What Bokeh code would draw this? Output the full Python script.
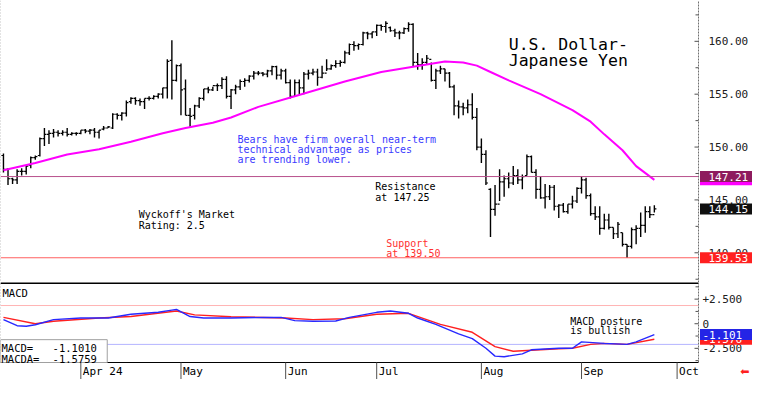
from bokeh.plotting import figure
from bokeh.layouts import column
from bokeh.models import Range1d, Span, Label, ColumnDataSource
from bokeh.embed import file_html
from bokeh.resources import INLINE
from bokeh.core.properties import value

# ---------------- data ----------------
highs = [149.4, 148.0, 147.1, 147.9, 148.0, 148.2, 149.1, 149.2, 150.9, 151.8,
         151.6, 151.7, 151.6, 151.6, 151.8, 151.4, 151.4, 151.6, 151.7, 151.7,
         151.8, 151.6, 152.0, 152.0, 153.2, 153.2, 153.3, 154.4, 154.7, 154.7,
         154.6, 154.6, 154.8, 154.9, 155.1, 155.6, 158.3, 160.1, 157.8, 157.9,
         156.4, 153.7, 154.0, 154.7, 155.5, 155.7, 155.7, 156.0, 156.6, 156.7,
         155.5, 155.9, 156.4, 156.5, 156.8, 157.2, 157.2, 157.1, 157.3, 157.7,
         157.7, 157.4, 157.4, 156.4, 156.4, 156.4, 157.1, 157.3, 157.4, 157.4,
         157.7, 158.3, 157.8, 158.2, 158.2, 159.1, 159.8, 160.0, 159.8, 160.9,
         160.9, 160.9, 161.6, 161.6, 161.9, 161.4, 161.2, 161.0, 161.3, 161.8,
         161.7, 158.9, 158.4, 158.7, 158.0, 157.4, 157.7, 157.4, 157.1, 155.9,
         154.4, 154.2, 154.5, 155.1, 153.7, 150.8, 149.7, 146.1, 146.4, 147.9,
         147.3, 147.6, 148.2, 147.9, 147.4, 149.3, 149.2, 147.9, 147.2, 146.5,
         146.4, 146.4, 144.6, 144.7, 144.6, 145.4, 146.2, 147.2, 147.1, 145.6,
         144.4, 144.4, 143.7, 143.7, 142.4, 142.9, 141.9, 140.8, 142.4, 142.6,
         143.8, 144.4, 144.4, 144.5]
lows = [147.6, 146.4, 146.5, 146.5, 147.3, 147.4, 148.0, 148.8, 149.1, 150.1,
        150.3, 150.9, 151.0, 151.1, 151.0, 151.1, 151.1, 151.2, 151.3, 151.2,
        150.9, 150.8, 151.6, 151.8, 151.7, 152.6, 152.5, 152.9, 154.1, 154.0,
        153.9, 153.6, 154.4, 154.5, 154.6, 154.6, 154.6, 154.5, 156.2, 153.0,
        153.0, 151.8, 152.6, 153.7, 154.4, 155.1, 155.3, 155.3, 155.5, 154.6,
        153.6, 155.0, 155.4, 155.7, 156.1, 156.4, 156.8, 156.7, 156.6, 156.8,
        156.4, 156.4, 156.0, 154.6, 154.8, 155.0, 155.0, 156.4, 156.8, 155.8,
        156.5, 157.2, 157.3, 157.5, 157.6, 157.9, 158.7, 159.1, 159.2, 159.6,
        160.2, 160.3, 160.5, 161.0, 160.8, 160.9, 160.4, 160.2, 160.7, 160.9,
        157.6, 157.3, 157.3, 157.8, 156.2, 155.5, 156.9, 156.2, 155.6, 153.0,
        152.7, 153.0, 153.2, 152.6, 149.7, 148.5, 146.4, 141.5, 143.5, 144.9,
        145.3, 146.1, 146.4, 146.5, 146.0, 147.3, 147.6, 145.1, 145.1, 144.2,
        145.0, 144.0, 143.3, 143.8, 143.7, 144.2, 144.7, 145.6, 145.1, 143.5,
        143.1, 141.7, 142.2, 142.2, 141.3, 141.4, 140.6, 139.5, 140.4, 140.8,
        141.5, 141.9, 143.3, 143.8]
opens = [149.2, 147.9, 147.0, 146.9, 147.7, 147.7, 148.3, 149.0, 149.2, 150.8,
         151.2, 151.3, 151.4, 151.3, 151.4, 151.2, 151.3, 151.3, 151.6, 151.5,
         151.6, 151.4, 151.7, 151.8, 151.8, 153.1, 153.0, 153.2, 154.3, 154.6,
         154.4, 154.3, 154.6, 154.6, 154.8, 155.0, 155.6, 158.2, 156.3, 157.7,
         155.5, 153.0, 153.0, 153.9, 154.6, 155.5, 155.4, 155.8, 155.8, 156.4,
         154.8, 155.4, 155.7, 156.2, 156.3, 156.7, 157.0, 157.0, 156.9, 157.2,
         157.6, 156.8, 157.2, 156.1, 154.8, 156.1, 155.6, 156.9, 157.0, 157.1,
         156.6, 157.0, 157.4, 157.7, 157.9, 158.0, 158.9, 159.7, 159.6, 159.7,
         160.8, 160.7, 160.9, 161.5, 161.4, 161.3, 161.0, 160.8, 160.8, 161.2,
         161.6, 158.0, 157.8, 158.0, 158.3, 156.3, 157.2, 157.4, 157.0, 155.7,
         153.9, 153.8, 153.7, 154.0, 152.8, 150.0, 149.3, 146.0, 144.1, 144.6,
         146.7, 147.0, 146.6, 147.3, 146.9, 147.3, 149.1, 147.6, 146.0, 145.2,
         145.3, 146.2, 144.4, 144.5, 143.9, 144.6, 144.9, 146.1, 146.9, 145.4,
         143.7, 143.4, 142.3, 143.1, 142.4, 141.8, 141.9, 140.8, 140.6, 142.2,
         142.3, 142.6, 143.9, 143.6]
closes = [147.9, 147.0, 146.9, 147.7, 147.7, 148.2, 149.0, 149.1, 150.8, 151.2,
          151.3, 151.4, 151.3, 151.4, 151.2, 151.3, 151.3, 151.6, 151.5, 151.6,
          151.4, 151.6, 151.8, 151.9, 153.1, 153.0, 153.2, 154.2, 154.6, 154.4,
          154.3, 154.6, 154.6, 154.8, 155.0, 155.6, 158.1, 156.3, 157.7, 155.4,
          153.0, 152.9, 153.9, 154.6, 155.5, 155.4, 155.8, 155.8, 156.4, 154.8,
          155.4, 155.7, 156.2, 156.3, 156.7, 157.0, 157.0, 156.9, 157.2, 157.6,
          156.8, 157.2, 156.1, 154.8, 156.1, 155.6, 156.9, 157.0, 157.1, 156.6,
          157.0, 157.4, 157.7, 157.9, 158.0, 158.9, 159.7, 159.6, 159.7, 160.8,
          160.7, 160.9, 161.5, 161.4, 161.7, 161.0, 160.8, 160.8, 161.2, 161.6,
          158.0, 157.8, 158.0, 158.4, 156.3, 157.2, 157.4, 157.0, 155.7, 153.9,
          153.8, 153.7, 154.0, 152.8, 150.0, 149.3, 146.6, 144.1, 144.6, 146.7,
          147.0, 146.6, 147.3, 146.9, 147.2, 149.1, 147.6, 146.0, 145.2, 145.3,
          146.2, 144.4, 144.5, 143.9, 144.6, 144.9, 146.1, 146.9, 145.4, 143.7,
          143.4, 142.3, 143.1, 142.4, 141.8, 142.7, 140.8, 140.6, 142.2, 142.3,
          142.6, 143.9, 143.6, 144.15]

ma_idx = [0, 7, 14, 21, 28, 35, 40, 46, 50, 56, 64, 75, 83, 90, 97, 101, 104,
          107, 111, 118, 125, 129, 132, 136, 139, 143]
ma_val = [147.8, 148.5, 149.3, 149.8, 150.5, 151.3, 151.8, 152.3, 152.8, 153.8,
          154.8, 156.2, 157.1, 157.6, 158.1, 158.0, 157.7, 157.1, 156.3, 155.0,
          153.5, 152.4, 151.2, 149.7, 148.2, 146.9]

macd_idx = [0, 3, 5, 7, 11, 17, 23, 28, 34, 37, 38, 41, 44, 50, 57, 61, 64, 68,
            73, 76, 82, 85, 89, 91, 95, 100, 103, 106, 108, 110, 114, 116, 122,
            125, 127, 132, 137, 139, 143]
macd_val = [0.42, -0.2, -0.25, -0.1, 0.42, 0.58, 0.58, 0.97, 1.16, 1.38, 1.45,
            0.73, 0.58, 0.58, 0.64, 0.64, 0.32, 0.25, 0.28, 0.64, 1.16, 1.29,
            1.06, 0.58, -0.07, -1.03, -1.52, -2.49, -3.29, -3.35, -3.06, -2.65,
            -2.49, -2.49, -1.84, -2.0, -2.1, -1.84, -1.10]
sig_idx = [0, 7, 11, 21, 28, 38, 42, 50, 57, 62, 68, 75, 82, 89, 96, 103, 108,
           112, 116, 122, 125, 129, 132, 137, 143]
sig_val = [0.64, 0.0, 0.25, 0.58, 0.73, 1.29, 0.9, 0.71, 0.64, 0.58, 0.42, 0.51,
           0.97, 1.06, -0.07, -0.87, -2.32, -2.8, -2.7, -2.55, -2.49, -2.1, -2.0,
           -2.1, -1.58]

month_idx = [17, 39, 62, 82, 105, 127, 148]
month_labels = ["Apr 24", "May", "Jun", "Jul", "Aug", "Sep", "Oct"]
price_ticks = [140, 145, 150, 155, 160]
price_tick_labels = ["140.00", "145.00", "150.00", "155.00", "160.00"]
price_minor = [137.5, 142.5, 147.5, 152.5, 157.5, 162.5]
macd_ticks = [-2.5, 0, 2.5]
macd_tick_labels = ["-2.500", "0", "+2.500"]
macd_minor = [-3.75, -1.25, 1.25, 3.75]

resistance = 147.21
support = 139.53
last_close = 144.15
ma_last = 146.90
macd_last = -1.1010
macda_last = -1.5759
upper_band = 1.85
lower_band = -2.1

# ---------------- geometry ----------------
FONT = "DejaVu Sans Mono"
TOTAL_W = 752
DATA_W = 698            # pixels left of the value axis
P_H = 282               # price panel height
M_H = 80                # MACD panel height
D_H = 17                # date row height

x_start, axis_x = -0.65, 152.7
bpp = (axis_x - x_start) / DATA_W          # bars per pixel
x_end = axis_x + (TOTAL_W - DATA_W) * bpp

p_lo, p_hi = 137.19, 163.86
p_upp = (p_hi - p_lo) / P_H
m_lo, m_hi = -3.94, 4.19
m_upp = (m_hi - m_lo) / M_H
m_bottom = m_lo - D_H * m_upp

xr = Range1d(x_start, x_end)


def make_fig(h, yr):
    f = figure(frame_width=TOTAL_W, frame_height=h, x_range=xr, y_range=yr,
               output_backend="svg", toolbar_location=None, x_axis_location=None,
               y_axis_location=None, min_border_left=0, min_border_right=0,
               min_border_top=0, min_border_bottom=0)
    f.grid.visible = False
    f.outline_line_color = None
    f.background_fill_color = "white"
    f.border_fill_color = "white"
    return f


def txt(fig, x, y, text, size="10px", color="black", **kw):
    fig.add_layout(Label(x=x, y=y, text=text, text_font=FONT, text_font_size=size,
                         text_color=color, text_baseline="alphabetic", **kw))


def value_axis(fig, ticks, labels, minor, lo, hi, label_off):
    fig.segment([axis_x], [lo], [axis_x], [hi], line_color="#707070", line_dash="2 1",
                line_width=1)
    fig.segment([axis_x - 4 * bpp] * len(ticks), ticks, [axis_x] * len(ticks), ticks,
                line_color="#505050", line_width=1)
    fig.segment([axis_x - 3 * bpp] * len(minor), minor, [axis_x] * len(minor), minor,
                line_color="#505050", line_width=1)
    fig.text(x=[axis_x] * len(ticks), y=ticks, text=labels, x_offset=label_off,
             text_baseline="middle", text_align="left", text_font=value(FONT),
             text_font_size=value("11px"), text_color="#202020")


def value_box(fig, v, color, upp, text=None, label_off=4):
    fig.quad(left=[axis_x + 1.5 * bpp], right=[x_end],
             bottom=[v - 5.5 * upp], top=[v + 5.5 * upp],
             fill_color=color, line_color=None)
    if text is not None:
        fig.text(x=[axis_x], y=[v], text=[text], x_offset=label_off,
                 text_baseline="middle", text_align="left", text_font=value(FONT),
                 text_font_size=value("11px"), text_color="white")


# ---------------- price panel ----------------
p = make_fig(P_H, Range1d(p_lo, p_hi))
p.add_layout(Span(location=x_start, dimension="height", line_color="#909090",
                  line_dash="1 2", line_width=1))

idx = list(range(len(highs)))
src = ColumnDataSource(dict(x=idx, h=highs, l=lows, o=opens, c=closes,
                            xl=[i - 0.45 for i in idx], xr=[i + 0.45 for i in idx]))
p.segment("x", "l", "x", "h", source=src, line_color="black", line_width=1.4)
p.segment("xl", "o", "x", "o", source=src, line_color="black", line_width=1.2)
p.segment("x", "c", "xr", "c", source=src, line_color="black", line_width=1.2)

p.line(ma_idx, ma_val, line_color="#FF00FF", line_width=2)

p.segment([x_start], [resistance], [axis_x], [resistance], line_color="#B8508C", line_width=1)
p.segment([x_start], [support], [axis_x], [support], line_color="#FF6060", line_width=1)

value_axis(p, price_ticks, price_tick_labels, price_minor, p_lo, p_hi, 10)
value_box(p, ma_last, "#FF00FF", p_upp)
value_box(p, resistance, "#8E1B5E", p_upp, "%.2f" % resistance, 10)
value_box(p, last_close, "#101010", p_upp, "%.2f" % last_close, 10)
value_box(p, support, "#FF2020", p_upp, "%.2f" % support, 10)

txt(p, 111, 159.70, "U.S. Dollar-", "16.5px")
txt(p, 111, 158.16, "Japanese Yen", "16.5px")
blue = "#3A3AFF"
txt(p, 51.4, 150.70, "Bears have firm overall near-term", color=blue)
txt(p, 51.4, 149.75, "technical advantage as prices", color=blue)
txt(p, 51.4, 148.81, "are trending lower.", color=blue)
txt(p, 81.7, 146.23, "Resistance")
txt(p, 81.7, 145.26, "at 147.25")
txt(p, 29.7, 143.61, "Wyckoff's Market")
txt(p, 29.7, 142.61, "Rating: 2.5")
txt(p, 84.1, 140.85, "Support", color="#FF3030")
txt(p, 84.1, 139.90, "at 139.50", color="#FF3030")

# ---------------- MACD panel + date row ----------------
m = make_fig(M_H + D_H, Range1d(m_bottom, m_hi))
m.segment([x_start], [m_lo], [x_start], [m_hi], line_color="#909090", line_dash="1 2",
          line_width=1)
m.segment([x_start], [upper_band], [axis_x], [upper_band], line_color="#FFB4B4", line_width=1)
m.segment([x_start], [lower_band], [axis_x], [lower_band], line_color="#B4B4FF", line_width=1)

m.line(sig_idx, sig_val, line_color="#FF2020", line_width=1.4)
m.line(macd_idx, macd_val, line_color="#2828FF", line_width=1.4)

# panel borders
m.segment([x_start], [m_hi], [axis_x], [m_hi], line_color="black", line_width=3)
m.segment([x_start], [m_lo], [axis_x], [m_lo], line_color="black", line_width=1.2)

value_axis(m, macd_ticks, macd_tick_labels, macd_minor, m_lo, m_hi, 4)

# MACD read-out box
m.quad(left=[x_start], right=[22.8], bottom=[m_lo], top=[-1.62], fill_color="white",
       line_color="#A0A0A0", line_width=1)
txt(m, x_start, 3.15, "MACD", "10.5px", x_offset=2)
txt(m, x_start, -2.49, "MACD=", "10.5px", x_offset=1)
txt(m, 10.8, -2.49, "%.4f" % macd_last, "10.5px")
txt(m, x_start, -3.62, "MACDA=", "10.5px", x_offset=1)
txt(m, 10.8, -3.62, "%.4f" % macda_last, "10.5px")
txt(m, 124.5, 0.25, "MACD posture")
txt(m, 124.5, -0.72, "is bullish")

value_box(m, macda_last, "#FF2020", m_upp, "%.3f" % macda_last, 4)
value_box(m, macd_last, "#2424E6", m_upp, "%.3f" % macd_last, 4)

# date row
nm = len(month_idx)
m.segment(month_idx, [m_lo] * nm, month_idx, [m_bottom] * nm, line_color="#505050",
          line_width=1)
row_mid = m_lo - (D_H / 2) * m_upp
m.text(x=month_idx, y=[row_mid] * nm, text=month_labels, x_offset=2,
       text_baseline="middle", text_align="left", text_font=value(FONT),
       text_font_size=value("11px"), text_color="black")
m.text(x=[x_end], y=[row_mid], text=["\u2B05"], x_offset=-3, text_baseline="middle",
       text_align="right", text_font=value("DejaVu Sans"), text_font_size=value("11px"),
       text_color="#FF2020")

layout = column(p, m, spacing=0)
open("out.html", "w").write(file_html(layout, INLINE))
